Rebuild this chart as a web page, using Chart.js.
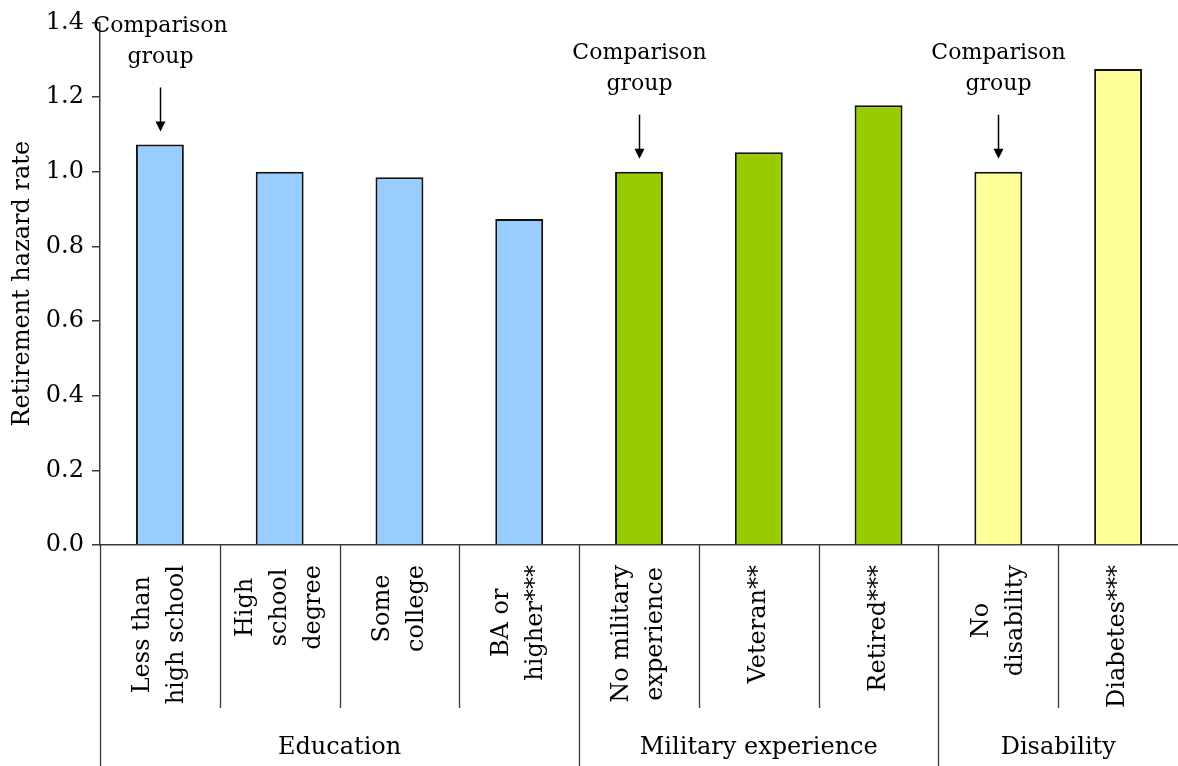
<!DOCTYPE html>
<html>
<head>
<meta charset="utf-8">
<script src="https://cdn.jsdelivr.net/npm/chart.js@4.4.1/dist/chart.umd.min.js"></script>
<style>
  html, body { margin: 0; padding: 0; background: #fff; }
  #wrap { width: 1178px; height: 766px; position: relative; }
</style>
</head>
<body>
<div id="wrap"><canvas id="chart"></canvas></div>
<script>
// Category labels (one entry per bar, split into lines)
const categories = [
  ['Less than', 'high school'],
  ['High', 'school', 'degree'],
  ['Some', 'college'],
  ['BA or', 'higher***'],
  ['No military', 'experience'],
  ['Veteran**'],
  ['Retired***'],
  ['No', 'disability'],
  ['Diabetes***']
];
const hazardRates = [1.073, 1.0, 0.985, 0.873, 1.0, 1.052, 1.178, 1.0, 1.275];

const groupNames  = ['Education', 'Military experience', 'Disability'];
const groupSizes  = [4, 3, 2];
const groupColors = ['#99ccff', '#99cc00', '#ffff99'];

// Bars marked as the reference category
const comparisonBars = [0, 4, 7];

const yTicks = [0, 0.2, 0.4, 0.6, 0.8, 1.0, 1.2, 1.4];

const FONT = '"DejaVu Serif", "Liberation Serif", serif';
const AXIS_COLOR = '#3a3a3a';

const barColors = [];
groupSizes.forEach((n, g) => { for (let k = 0; k < n; k++) barColors.push(groupColors[g]); });

// Arrows + "Comparison group" text above the reference bars
const comparisonPlugin = {
  id: 'comparison',
  afterDatasetsDraw(chart) {
    const { ctx, scales: { x, y } } = chart;
    ctx.save();
    ctx.fillStyle = '#000';
    ctx.strokeStyle = '#000';
    ctx.lineWidth = 1.5;
    ctx.font = `22px ${FONT}`;
    ctx.textAlign = 'center';
    ctx.textBaseline = 'middle';
    for (const i of comparisonBars) {
      const cx = Math.round(x.getPixelForValue(i)) + 0.5;
      const top = y.getPixelForValue(hazardRates[i]);
      const tip = top - 13;
      const start = tip - 44;
      ctx.beginPath();
      ctx.moveTo(cx, start);
      ctx.lineTo(cx, tip - 8);
      ctx.stroke();
      ctx.beginPath();
      ctx.moveTo(cx, tip);
      ctx.lineTo(cx - 5, tip - 10);
      ctx.lineTo(cx + 5, tip - 10);
      ctx.closePath();
      ctx.fill();
      ctx.fillText('group', cx, start - 30);
      ctx.fillText('Comparison', cx, start - 61);
    }
    ctx.restore();
  }
};

// Rotated category labels, separators and group titles below the axis
const categoryAxisPlugin = {
  id: 'categoryAxis',
  afterDraw(chart) {
    const { ctx, chartArea, scales: { x } } = chart;
    const bottom = chartArea.bottom;
    const fullBottom = chart.height;
    const step = x.getPixelForValue(1) - x.getPixelForValue(0);
    ctx.save();
    ctx.fillStyle = '#000';

    // separators
    ctx.strokeStyle = AXIS_COLOR;
    ctx.lineWidth = 1.3;
    let idx = 0;
    const groupStarts = [];
    groupSizes.forEach(n => { groupStarts.push(idx); idx += n; });
    for (let i = 0; i < categories.length; i++) {
      const lx = Math.round(x.getPixelForValue(i) - step / 2) + 0.5;
      const isGroupEdge = groupStarts.includes(i);
      ctx.beginPath();
      ctx.moveTo(lx, bottom);
      ctx.lineTo(lx, isGroupEdge ? fullBottom : bottom + 163);
      ctx.stroke();
    }

    // category labels, read bottom to top
    ctx.font = `24px ${FONT}`;
    ctx.textAlign = 'center';
    ctx.textBaseline = 'middle';
    const lineH = 34;
    categories.forEach((lines, i) => {
      const maxW = Math.max(...lines.map(l => ctx.measureText(l).width));
      const cx = x.getPixelForValue(i);
      const cy = bottom + 20 + maxW / 2;
      ctx.save();
      ctx.translate(cx, cy);
      ctx.rotate(-Math.PI / 2);
      lines.forEach((l, j) => {
        ctx.fillText(l, 0, (j - (lines.length - 1) / 2) * lineH);
      });
      ctx.restore();
    });

    // group titles
    groupNames.forEach((name, g) => {
      const first = groupStarts[g];
      const last = first + groupSizes[g] - 1;
      const left = x.getPixelForValue(first) - step / 2;
      const right = x.getPixelForValue(last) + step / 2;
      ctx.fillText(name, (left + right) / 2, fullBottom - 18);
    });
    ctx.restore();
  }
};

new Chart(document.getElementById('chart'), {
  type: 'bar',
  data: {
    labels: categories,
    datasets: [{
      data: hazardRates,
      backgroundColor: barColors,
      borderColor: '#111',
      borderWidth: 2,
      borderSkipped: 'bottom',
      categoryPercentage: 1.0,
      barPercentage: 0.4
    }]
  },
  options: {
    responsive: true,
    maintainAspectRatio: false,
    animation: false,
    layout: { padding: { top: 19, right: 0, bottom: 0, left: 0 } },
    plugins: {
      legend: { display: false },
      tooltip: { enabled: false }
    },
    scales: {
      x: {
        type: 'category',
        offset: true,
        ticks: { display: false },
        grid: { drawOnChartArea: false, drawTicks: false },
        border: { display: true, color: AXIS_COLOR, width: 1.5 },
        afterFit: s => { s.height = 221; }
      },
      y: {
        min: 0,
        max: 1.4,
        afterBuildTicks: s => { s.ticks = yTicks.map(v => ({ value: v })); },
        ticks: {
          color: '#000',
          padding: 8,
          font: { family: FONT, size: 24 },
          callback: v => v.toFixed(1)
        },
        grid: { drawOnChartArea: false, tickLength: 8, color: AXIS_COLOR, lineWidth: 1.5 },
        border: { display: true, color: AXIS_COLOR, width: 1.5 },
        title: {
          display: true,
          text: 'Retirement hazard rate',
          color: '#000',
          font: { family: FONT, size: 24 },
          padding: { top: 8, bottom: 0 }
        },
        afterFit: s => { s.width = 100; }
      }
    }
  },
  plugins: [comparisonPlugin, categoryAxisPlugin]
});
</script>
</body>
</html>
